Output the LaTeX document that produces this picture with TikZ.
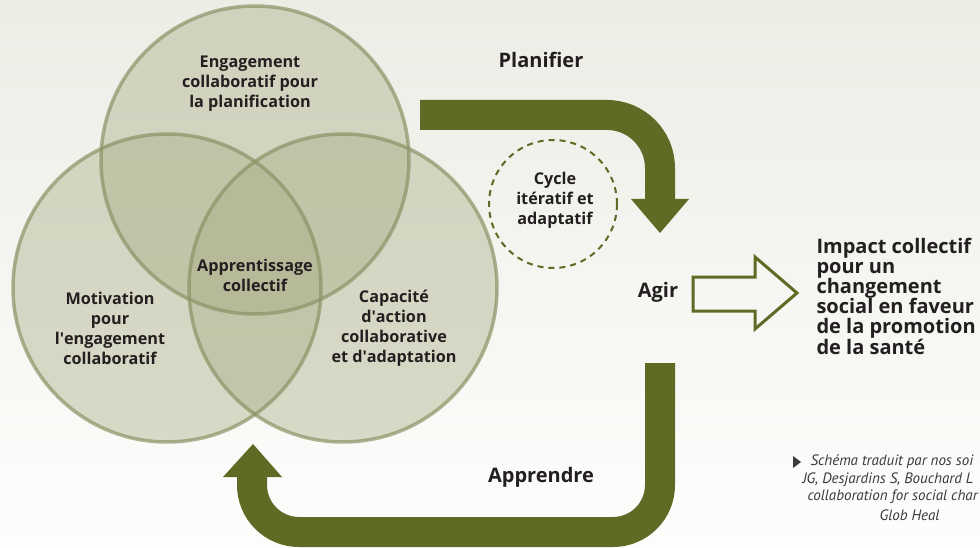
\documentclass[tikz,border=0pt]{standalone}
\usepackage{fontspec}
\setmainfont{Open Sans}
\newfontfamily\citefont{PT Sans}
\newcommand{\ap}{\textquotesingle}
\definecolor{arrowgreen}{HTML}{5E6B24}
\definecolor{circfill}{HTML}{A9AD85}
\definecolor{circline}{HTML}{8C9265}
\definecolor{txt}{HTML}{231F20}
\definecolor{bgtop}{HTML}{EDEDE6}
\definecolor{bgbot}{HTML}{FDFDFC}
\definecolor{cite}{HTML}{3A3A3A}
\tikzset{
  venn/.style={fill=circfill, fill opacity=0.42},
  vennline/.style={draw=circline, draw opacity=0.7, line width=3.5pt},
  label/.style={text=txt, align=center, font=\fontsize{16.2}{20}\selectfont\bfseries},
  biglabel/.style={text=txt, align=center, font=\fontsize{20}{22}\selectfont\bfseries},
  impact/.style={text=txt, align=left, anchor=west, font=\fontsize{20}{20.2}\selectfont\bfseries},
  citetext/.style={text=cite, anchor=west, font=\citefont\fontsize{15}{17.5}\selectfont\itshape},
  band/.style={draw=arrowgreen, line width=30pt},
  head/.style={fill=arrowgreen},
}
\begin{document}
\begin{tikzpicture}[x=1pt,y=-1pt]
\shade[top color=bgtop, bottom color=bgbot] (0,0) rectangle (980,548);
\useasboundingbox (0,0) rectangle (980,548);

% Venn circles
\coordinate (ctop) at (255,160);
\coordinate (cleft) at (167,288);
\coordinate (cright) at (343,288);
\fill[venn] (ctop) circle[radius=154];
\fill[venn] (cleft) circle[radius=154];
\fill[venn] (cright) circle[radius=154];
\draw[vennline] (ctop) circle[radius=154];
\draw[vennline] (cleft) circle[radius=154];
\draw[vennline] (cright) circle[radius=154];

\node[label] (engage) at (250,84) {Engagement\\collaboratif pour\\la planification};
\node[label] (appr) at (255,275) {Apprentissage\\collectif};
\node[label] (motiv) at (110,328) {Motivation\\pour\\l\ap engagement\\collaboratif};
\node[label] (capa) at (394,328) {Capacité\\d\ap action\\collaborative\\et d\ap adaptation};

% Planifier arrow
\coordinate (p1) at (420,115);
\coordinate (p2) at (660,115);
\coordinate (p3) at (660,200);
\draw[band, rounded corners=53pt] (p1) -- (p2) -- (p3);
\fill[head] (631,199) -- (689,199) -- (660,233) -- cycle;
\node[biglabel] (planif) at (541,60) {Planifier};

% Cycle circle
\node[draw=arrowgreen, dashed, dash pattern=on 6pt off 5pt, line width=2pt, circle, minimum size=128pt] (cycbox) at (553,204) {};
\node[label] (cycle) at (555,200) {Cycle\\itératif et\\adaptatif};

% Agir + hollow arrow
\node[biglabel] (agir) at (658,292) {Agir};
\draw[arrowgreen, line width=3pt, line join=miter] (693,277) -- (755,277) -- (755,257) -- (797,293) -- (755,329) -- (755,311) -- (693,311) -- cycle;
\node[impact] (impact) at (813,296) {Impact collectif\\pour un\\changement\\social en faveur\\de la promotion\\de la santé};

% Apprendre arrow
\coordinate (a1) at (660,363);
\coordinate (a2) at (660,532);
\coordinate (a3) at (252,532);
\coordinate (a4) at (252,476);
\draw[band, rounded corners=47pt] (a1) -- (a2) -- (a3) -- (a4);
\fill[head] (223,477) -- (282,477) -- (253,444) -- cycle;
\node[biglabel] (apprendre) at (541,477) {Apprendre};

% Citation
\fill[cite] (793,456) -- (801,462) -- (793,468) -- cycle;
\node[citetext] (c1) at (807,462) {Schéma traduit par nos soi};
\node[citetext] (c2) at (799,480) {JG, Desjardins S, Bouchard L};
\node[citetext] (c3) at (804,497) {collaboration for social char};
\node[citetext] (c4) at (876,515) {Glob Heal};
\end{tikzpicture}
\end{document}
